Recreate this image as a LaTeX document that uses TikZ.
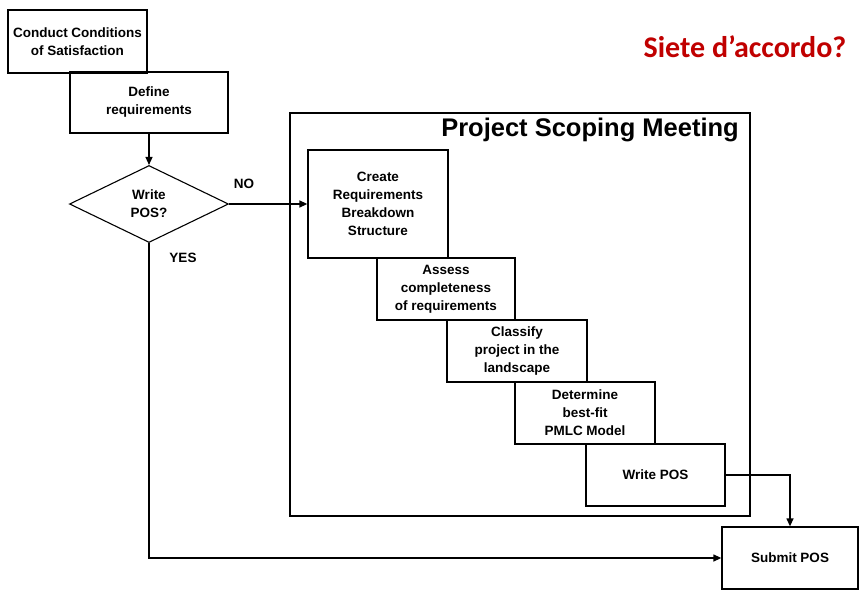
\documentclass[tikz,border=0pt]{standalone}
\usepackage{fontspec}
\setmainfont{Liberation Sans}
\newfontfamily\carlito{Carlito}
\usetikzlibrary{shapes.geometric,arrows.meta}
\definecolor{sietered}{RGB}{192,0,0}
\begin{document}
\begin{tikzpicture}[x=1pt,y=-1pt,
  stepbox/.style={draw, line width=1.3pt, rectangle, inner sep=0pt, align=center,
    font=\bfseries\fontsize{13.5}{18}\selectfont},
  lab/.style={font=\bfseries\fontsize{13.5}{16}\selectfont, inner sep=0pt},
  arr/.style={line width=1.3pt, -{Triangle[length=8pt,width=7pt]}},
  conn/.style={line width=1.3pt}]
\useasboundingbox (0,0) rectangle (868,597);
% big frame
\node[draw, line width=1.3pt, minimum width=460pt, minimum height=403pt, inner sep=0pt] (frame) at (520,314.5) {};
\node[font=\bfseries\fontsize{25.5}{28}\selectfont, anchor=base east, inner sep=0pt] (title) at (739,136) {Project Scoping Meeting};
% left column
\node[stepbox, minimum width=139pt, minimum height=63pt] (cond) at (77.5,41.5) {Conduct Conditions\\of Satisfaction};
\node[stepbox, minimum width=158pt, minimum height=61pt] (def) at (149,102.5) {Define\\requirements};
\node[draw, line width=1.1pt, diamond, aspect=2, inner sep=0pt, minimum width=159pt, minimum height=77pt,
  align=center, font=\bfseries\fontsize{13.5}{18}\selectfont] (dia) at (149,204) {Write\\POS?};
% staircase
\node[stepbox, minimum width=140pt, minimum height=108pt] (crs) at (378,204) {Create\\Requirements\\Breakdown\\Structure};
\node[stepbox, minimum width=138pt, minimum height=62pt] (ass) at (446,289) {Assess\\completeness\\of requirements};
\node[stepbox, minimum width=140pt, minimum height=62pt] (cls) at (517,351) {Classify\\project in the\\landscape};
\node[stepbox, minimum width=140pt, minimum height=62pt] (det) at (585,413) {Determine\\best-fit\\PMLC Model};
\node[stepbox, minimum width=139pt, minimum height=62pt] (wpos) at (655.5,475) {Write POS};
\node[stepbox, minimum width=136pt, minimum height=62pt] (sub) at (790,558) {Submit POS};
% labels
\node[lab] (no) at (244,184) {NO};
\node[lab] (yes) at (183,258) {YES};
\node[font=\carlito\bfseries\fontsize{30}{34}\selectfont, text=sietered, inner sep=0pt] (siete) at (745,47) {Siete d’accordo?};
% connectors
\draw[arr] (def.south) -- (dia.north);
\draw[arr] (dia.east) -- (crs.west);
\draw[arr] (dia.south) |- (sub.west);
\draw[arr] (wpos.east) -| (sub.north);
\end{tikzpicture}
\end{document}
